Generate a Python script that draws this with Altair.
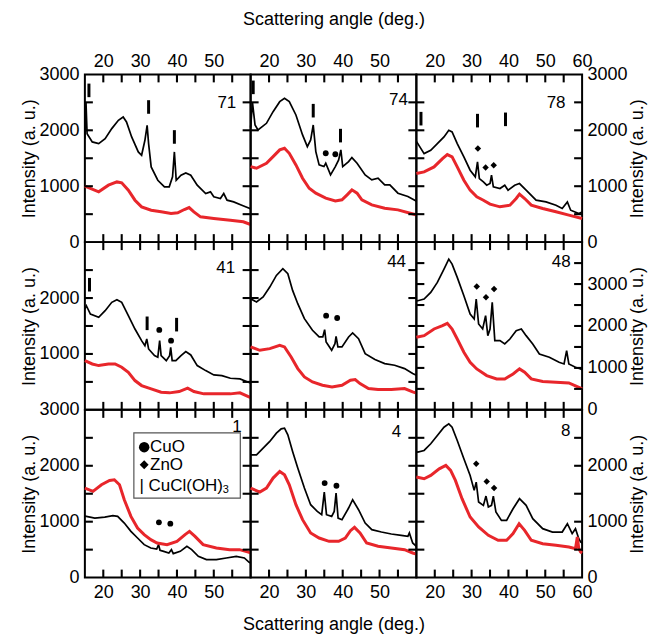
import altair as alt
import pandas as pd

# ------------------------------------------------------------------ data
# panel 71
x71_black = [15.0, 15.3, 15.6, 17.0, 18.75, 20.5, 22.3, 24.1, 25.4, 26.3, 27.7, 29.5, 30.4, 31.3, 31.9, 32.3, 33.0, 34.8, 36.6, 37.9, 38.8, 39.3, 39.8, 41.1, 42.4, 43.75, 45.5, 47.8, 49.1, 50.0, 51.8, 52.7, 53.6, 55.4, 57.6, 59.8, 60.0]
y71_black = [1850, 2500, 1940, 1792, 1762, 1851, 2030, 2179, 2238, 2149, 1881, 1613, 1554, 1821, 2089, 1762, 1345, 1107, 988, 988, 1167, 1613, 1107, 1196, 1238, 1196, 1018, 869, 899, 810, 780, 869, 750, 720, 661, 601, 590]
x71_red = [15.0, 18.75, 21.4, 23.7, 25.0, 26.8, 28.6, 30.4, 33.0, 35.7, 38.4, 40.2, 42.0, 43.3, 44.6, 46.4, 50.0, 54.5, 58.0, 60.0]
y71_red = [1000, 899, 1018, 1077, 1060, 929, 750, 631, 571, 542, 512, 524, 583, 619, 542, 452, 423, 393, 363, 315]
bars71 = [(16.1, 2714), (32.3, 2417), (39.3, 1881)]

# panel 74
x74_black = [15.0, 15.5, 16.2, 17.0, 19.3, 21.1, 22.9, 24.2, 25.5, 27.3, 29.1, 30.4, 31.3, 32.0, 32.7, 33.6, 34.9, 35.4, 36.7, 38.0, 38.9, 39.5, 40.0, 41.6, 42.5, 43.9, 46.1, 47.9, 49.6, 51.4, 52.8, 55.0, 57.7, 59.8, 60.0]
y74_black = [2050, 2500, 2095, 2006, 2125, 2333, 2512, 2571, 2512, 2274, 1917, 1708, 1827, 2095, 1619, 1381, 1351, 1411, 1202, 1351, 1470, 1649, 1351, 1440, 1512, 1411, 1202, 1113, 1143, 1024, 1024, 875, 815, 740, 730]
x74_red = [15.0, 16.6, 19.3, 21.1, 22.9, 24.2, 25.5, 27.3, 29.1, 30.9, 32.7, 35.4, 38.0, 39.8, 41.2, 42.5, 43.9, 45.2, 47.9, 51.4, 55.0, 59.8, 60.0]
y74_red = [1351, 1321, 1411, 1530, 1649, 1679, 1589, 1381, 1143, 964, 875, 786, 738, 756, 845, 935, 875, 756, 667, 607, 577, 490, 480]
bars74 = [(15.7, 2768), (32.0, 2351), (39.4, 1905)]
circles74 = [(35.4, 1589), (38.0, 1571)]

# panel 78
x78_black = [15.0, 15.4, 17.1, 18.9, 20.7, 22.5, 23.8, 24.7, 26.1, 27.9, 29.6, 31.0, 31.6, 32.1, 33.2, 34.1, 35.0, 35.4, 35.9, 37.7, 39.0, 39.9, 41.7, 43.0, 44.8, 47.5, 50.2, 52.9, 54.6, 56.0, 56.9, 59.1, 60.0]
y78_black = [1800, 1762, 1583, 1643, 1762, 1881, 2000, 1970, 1762, 1524, 1286, 1167, 1435, 1137, 1077, 1018, 1048, 1196, 988, 958, 1018, 929, 1018, 1048, 929, 750, 720, 661, 601, 720, 571, 512, 540]
x78_red = [15.0, 17.1, 19.8, 22.1, 23.4, 24.7, 26.1, 27.9, 29.6, 31.4, 33.2, 35.0, 37.7, 40.4, 42.1, 43.0, 44.4, 46.2, 49.3, 52.9, 56.4, 60.0]
y78_red = [1226, 1256, 1345, 1494, 1565, 1524, 1345, 1107, 929, 810, 750, 679, 631, 661, 780, 857, 780, 661, 601, 542, 482, 423]
bars78 = [(16.25, 2208), (31.6, 2173), (39.2, 2196)]
diamonds78 = [(31.7, 1673), (33.8, 1333), (36.0, 1375)]

# panel 41
x41_black = [15.0, 15.4, 16.5, 18.75, 20.5, 22.3, 23.7, 25.0, 26.8, 28.6, 30.4, 31.3, 31.8, 32.3, 33.9, 34.8, 35.3, 35.7, 37.1, 38.0, 38.3, 38.7, 39.7, 41.1, 42.4, 43.75, 45.5, 47.8, 50.0, 52.2, 54.5, 57.1, 59.4, 60.0]
y41_black = [1800, 1863, 1714, 1655, 1774, 1923, 1970, 1923, 1685, 1446, 1238, 1149, 1268, 1089, 970, 940, 1238, 970, 881, 970, 1119, 881, 881, 970, 1042, 982, 792, 702, 625, 613, 565, 554, 494, 480]
x41_red = [15.0, 17.0, 18.75, 21.4, 23.2, 25.0, 26.8, 28.6, 30.4, 33.0, 35.7, 38.0, 40.6, 42.9, 44.6, 47.3, 50.9, 54.5, 57.1, 60.0]
y41_red = [881, 821, 792, 821, 821, 762, 673, 524, 435, 375, 315, 304, 327, 387, 327, 286, 286, 286, 304, 220]
bars41 = [(16.25, 2238), (31.9, 1548), (39.9, 1524)]
circles41 = [(35.2, 1429), (38.4, 1238)]

# panel 44
x44_black = [15.0, 16.6, 18.4, 20.2, 22.0, 23.75, 25.1, 26.4, 27.8, 29.6, 31.8, 33.6, 34.6, 35.1, 35.5, 37.0, 37.9, 38.2, 38.7, 39.8, 41.6, 42.7, 44.3, 46.1, 48.75, 51.4, 54.1, 56.8, 59.0, 60.0]
y44_black = [1988, 1929, 2018, 2196, 2405, 2524, 2435, 2137, 1899, 1631, 1423, 1304, 1304, 1435, 1214, 1065, 1184, 1315, 1125, 1125, 1304, 1375, 1274, 1006, 899, 827, 798, 738, 649, 620]
x44_red = [15.0, 17.5, 20.2, 22.9, 24.2, 26.0, 27.8, 29.6, 31.8, 34.5, 37.1, 39.8, 42.1, 43.4, 44.7, 47.0, 49.6, 53.2, 56.8, 59.0, 60.0]
y44_red = [1125, 1065, 1095, 1155, 1125, 946, 738, 589, 500, 440, 411, 440, 530, 542, 470, 381, 363, 363, 381, 321, 300]
circles44 = [(35.5, 1685), (38.5, 1643)]

# panel 48 (taller intensity range)
x48_black = [15.0, 15.4, 17.1, 18.9, 20.7, 22.5, 23.8, 24.7, 26.1, 27.9, 29.6, 30.7, 31.25, 31.9, 33.0, 33.8, 34.4, 35.0, 35.6, 36.3, 37.7, 39.0, 40.4, 42.1, 43.5, 44.8, 46.6, 48.4, 51.1, 53.75, 55.1, 55.8, 56.4, 58.2, 59.6, 60.0]
y48_black = [2600, 2603, 2643, 2802, 3040, 3357, 3595, 3476, 3159, 2722, 2286, 2167, 2643, 2048, 1929, 2246, 1770, 1929, 2563, 1651, 1651, 1571, 1690, 1889, 1929, 1770, 1571, 1333, 1254, 1135, 1095, 1413, 1095, 1016, 976, 950]
x48_red = [15.0, 17.1, 19.8, 22.1, 23.4, 24.7, 26.1, 27.9, 29.6, 31.4, 34.1, 36.8, 39.0, 41.25, 43.0, 44.4, 46.2, 49.3, 52.9, 56.4, 59.6, 60.0]
y48_red = [1730, 1770, 1929, 2008, 2063, 1929, 1690, 1373, 1135, 976, 817, 738, 738, 857, 976, 897, 738, 675, 659, 643, 516, 500]
diamonds48 = [(31.4, 2944), (33.9, 2683), (36.1, 2881)]

# panel 1
x1_black = [15.0, 15.4, 17.7, 20.4, 22.6, 23.9, 25.7, 27.5, 29.3, 31.1, 32.9, 34.5, 35.0, 35.4, 36.4, 37.8, 38.5, 39.0, 40.9, 42.7, 44.0, 45.8, 48.0, 50.7, 53.4, 56.1, 58.3, 59.6, 60.0]
y1_black = [1100, 1095, 1065, 1083, 1107, 1095, 976, 827, 708, 589, 530, 512, 589, 488, 470, 440, 500, 429, 470, 560, 500, 381, 321, 321, 351, 381, 351, 274, 260]
x1_red = [15.0, 17.2, 19.5, 21.7, 23.0, 24.4, 25.7, 27.5, 29.3, 31.1, 32.9, 34.6, 37.3, 40.0, 42.2, 43.4, 44.9, 47.1, 50.7, 54.3, 57.0, 59.6, 60.0]
y1_red = [1601, 1542, 1661, 1738, 1750, 1661, 1393, 1095, 887, 768, 679, 619, 589, 649, 768, 827, 738, 589, 530, 500, 500, 452, 440]
circles1 = [(35.1, 988), (38.2, 964)]

# panel 4
x4_black = [15.0, 16.6, 18.4, 20.2, 22.0, 23.3, 24.2, 25.1, 26.4, 27.8, 29.6, 31.3, 33.1, 34.3, 35.0, 35.6, 37.0, 37.7, 38.2, 38.75, 39.8, 41.6, 42.7, 44.3, 46.1, 47.9, 50.5, 53.2, 55.9, 57.7, 58.1, 59.0, 60.0]
y4_black = [2196, 2196, 2315, 2435, 2583, 2661, 2673, 2554, 2256, 1958, 1601, 1304, 1184, 1125, 1530, 1125, 1095, 1184, 1512, 1065, 1036, 1244, 1393, 1214, 976, 857, 815, 780, 756, 738, 798, 619, 560]
x4_red = [15.0, 17.5, 19.3, 21.1, 22.9, 24.2, 25.5, 27.3, 29.1, 31.3, 33.6, 36.3, 38.9, 40.7, 42.1, 43.2, 44.7, 46.5, 49.6, 53.2, 56.8, 59.0, 60.0]
y4_red = [1601, 1530, 1601, 1780, 1899, 1839, 1661, 1304, 1036, 798, 708, 649, 649, 708, 839, 899, 798, 619, 560, 530, 500, 440, 420]
circles4 = [(35.1, 1690), (38.3, 1643)]

# panel 8
x8_black = [15.0, 15.4, 17.1, 18.9, 20.7, 22.5, 23.8, 24.7, 26.1, 27.9, 29.6, 30.7, 31.25, 31.9, 33.2, 33.9, 34.55, 35.4, 35.9, 36.6, 38.1, 39.5, 41.25, 43.0, 44.8, 46.6, 49.3, 51.96, 54.6, 56.0, 57.3, 58.2, 59.1, 59.6, 60.0]
y8_black = [2250, 2244, 2274, 2393, 2542, 2690, 2750, 2690, 2452, 2125, 1827, 1560, 1708, 1351, 1292, 1458, 1262, 1292, 1458, 1173, 1024, 1024, 1232, 1411, 1292, 1054, 875, 815, 815, 964, 786, 875, 696, 637, 620]
x8_red = [15.0, 17.1, 18.9, 21.2, 23.0, 24.3, 25.6, 27.4, 29.6, 31.9, 34.55, 37.2, 39.5, 41.25, 42.9, 44.4, 46.2, 49.3, 52.9, 56.4, 58.2, 58.7, 59.1, 59.6, 60.0]
y8_red = [1798, 1768, 1827, 1946, 2006, 1917, 1738, 1411, 1083, 905, 756, 667, 667, 786, 964, 845, 667, 607, 577, 548, 518, 726, 518, 458, 440]
diamonds8 = [(31.25, 2036), (34.1, 1720), (36.1, 1601)]

# panel names and where the name sits
panel_names = ["71", "74", "78", "41", "44", "48", "1", "4", "8"]
name_pos = [(56.1, 2494), (57.7, 2542), (55.5, 2494), (55.8, 2530), (57.2, 2643),
            (56.9, 3524), (57.6, 2700), (55.9, 2612), (56.8, 2630)]

# legend
legend_labels = ["CuO", "ZnO", "| CuCl(OH)"]
legend_box = (28.3, 57.2, 1420, 2590)

x_label_values = [20, 30, 40, 50]
x_label_values_last = [20, 30, 40, 50, 60]
x_tick_values = [20, 25, 30, 35, 40, 45, 50, 55]
x_title = "Scattering angle (deg.)"
y_title = "Intensity (a. u.)"

# ------------------------------------------------------------------ chart
W, H = 166, 168
XMIN, XMAX = 15, 60
RED = "#e8262b"
FONT = "Liberation Sans"
TICK_LEN = 8          # px
BAR_PATH = "M-0.22,-1L0.22,-1L0.22,1L-0.22,1Z"
V_TICK = "M-0.26,-1L0.26,-1L0.26,1L-0.26,1Z"
H_TICK = "M-1,-0.26L1,-0.26L1,0.26L-1,0.26Z"


def df(xs, ys):
    return pd.DataFrame({"angle": xs, "intensity": ys})


def label_axis(orient, values, pad, title=None, title_pad=4, **extra):
    kw = dict(orient=orient, values=values, ticks=False, tickSize=0, domain=False,
              grid=False, labelFont=FONT, labelFontSize=18, labelColor="black",
              labelPadding=pad, labelFlush=False, labelOverlap=False, format="d")
    if title:
        kw.update(title=title, titleFont=FONT, titleFontSize=18,
                  titleFontWeight="normal", titleColor="black", titlePadding=title_pad)
    else:
        kw["title"] = None
    kw.update(extra)
    return alt.Axis(**kw)


def panel(idx, kx, ky, rx, ry, ymax=3000, ylabels=(), bars=(), circles=(),
          diamonds=(), legend=False):
    row, col = divmod(idx, 3)
    xsc = alt.Scale(domain=[XMIN, XMAX], nice=False, zero=False)
    ysc = alt.Scale(domain=[0, ymax], nice=False, zero=False)
    yt = list(range(500, ymax, 500))

    def X(ax=None):
        return alt.X("angle:Q", scale=xsc, axis=ax)

    def Y(ax=None):
        return alt.Y("intensity:Q", scale=ysc, axis=ax)

    # one symbol table per panel: phase markers and the inward frame ticks
    hy = ymax * (TICK_LEN / 2) / H
    hx = (XMAX - XMIN) * (TICK_LEN / 2) / W
    sym_rows = []
    for a, i in bars:
        sym_rows.append((a, i, BAR_PATH, 185))
    for a, i in circles:
        sym_rows.append((a, i, "circle", 34))
    for a, i in diamonds:
        sym_rows.append((a, i, "diamond", 42))
    for v in x_tick_values:
        sym_rows.append((v, ymax - hy, V_TICK, TICK_LEN ** 2))
        sym_rows.append((v, hy, V_TICK, TICK_LEN ** 2))
    for v in yt:
        sym_rows.append((XMIN + hx, v, H_TICK, TICK_LEN ** 2))
        sym_rows.append((XMAX - hx, v, H_TICK, TICK_LEN ** 2))
    symbols = pd.DataFrame(sym_rows, columns=["angle", "intensity", "shape", "size"])
    symbols["panel"] = panel_names[idx]

    layers = [
        alt.Chart(df(kx, ky)).mark_line(color="black", strokeWidth=1.7).encode(x=X(), y=Y()),
        alt.Chart(df(rx, ry)).mark_line(color=RED, strokeWidth=3).encode(x=X(), y=Y()),
        alt.Chart(symbols).mark_point(filled=True, color="black", opacity=1,
                                      strokeWidth=0).encode(
            x=X(), y=Y(),
            shape=alt.Shape("shape:N", scale=None),
            size=alt.Size("size:Q", scale=None)),
    ]
    if legend:
        x0, x1, y0, y1 = legend_box
        box = pd.DataFrame({"angle": [x0], "a2": [x1], "intensity": [y0], "i2": [y1]})
        layers.append(alt.Chart(box).mark_rect(fill="white", stroke="#555555",
                                               strokeWidth=1.2).encode(
            x=X(), x2="a2:Q", y=Y(), y2="i2:Q"))
        leg_sym = pd.DataFrame({"angle": [31.1, 31.1], "intensity": [2333, 2018],
                                "shape": ["circle", "diamond"], "size": [110, 80]})
        layers.append(alt.Chart(leg_sym).mark_point(
            filled=True, color="black", opacity=1, strokeWidth=0).encode(
            x=X(), y=Y(), shape=alt.Shape("shape:N", scale=None),
            size=alt.Size("size:Q", scale=None)))
        leg = pd.DataFrame({"angle": [32.7, 32.7, 29.8],
                            "intensity": [2333, 2018, 1643],
                            "t": legend_labels})
        layers.append(alt.Chart(leg).mark_text(
            align="left", baseline="middle", font=FONT, fontSize=17, color="black").encode(
            x=X(), y=Y(), text="t:N"))
        layers.append(alt.Chart(pd.DataFrame({"angle": [52.4], "intensity": [1560]})).mark_text(
            align="left", baseline="middle", font=FONT, fontSize=11, color="black",
            text="3").encode(x=X(), y=Y()))

    # the panel name carries the labelled axes
    if row == 0:
        xa = label_axis("top", x_label_values_last if col == 2 else x_label_values, 4,
                        title=x_title if col == 1 else None, title_pad=24)
    elif row == 2:
        xa = label_axis("bottom", x_label_values_last if col == 2 else x_label_values, 6,
                        title=x_title if col == 1 else None, title_pad=14)
    else:
        xa = None
    if col == 0:
        ya = label_axis("left", list(ylabels), 6, title=y_title, title_pad=0)
    elif col == 2:
        ya = label_axis("right", list(ylabels), 5, title=y_title, title_pad=1,
                        titleAngle=270, titleBaseline="top")
    else:
        ya = None
    nx, ny = name_pos[idx]
    name = pd.DataFrame({"angle": [nx], "intensity": [ny], "t": [panel_names[idx]]})
    layers.append(alt.Chart(name).mark_text(
        align="right", baseline="middle", font=FONT, fontSize=17, color="black").encode(
        x=X(xa), y=Y(ya), text="t:N"))

    return alt.layer(*layers).resolve_axis(x="independent", y="independent").properties(
        width=W, height=H)


panels = [
    panel(0, x71_black, y71_black, x71_red, y71_red, ylabels=[0, 1000, 2000, 3000], bars=bars71),
    panel(1, x74_black, y74_black, x74_red, y74_red, bars=bars74, circles=circles74),
    panel(2, x78_black, y78_black, x78_red, y78_red, ylabels=[0, 1000, 2000, 3000],
          bars=bars78, diamonds=diamonds78),
    panel(3, x41_black, y41_black, x41_red, y41_red, ylabels=[1000, 2000],
          bars=bars41, circles=circles41),
    panel(4, x44_black, y44_black, x44_red, y44_red, circles=circles44),
    panel(5, x48_black, y48_black, x48_red, y48_red, ymax=4000,
          ylabels=[0, 1000, 2000, 3000], diamonds=diamonds48),
    panel(6, x1_black, y1_black, x1_red, y1_red, ylabels=[0, 1000, 2000, 3000],
          circles=circles1, legend=True),
    panel(7, x4_black, y4_black, x4_red, y4_red, circles=circles4),
    panel(8, x8_black, y8_black, x8_red, y8_red, ylabels=[0, 1000, 2000], diamonds=diamonds8),
]

chart = alt.concat(*panels, columns=3, spacing=0, bounds="flush").configure_view(
    stroke="black", strokeWidth=2
).properties(padding={"left": 11, "top": 1, "right": 0, "bottom": 0})

chart.save("out.html", embed_options={"renderer": "svg", "actions": False})
